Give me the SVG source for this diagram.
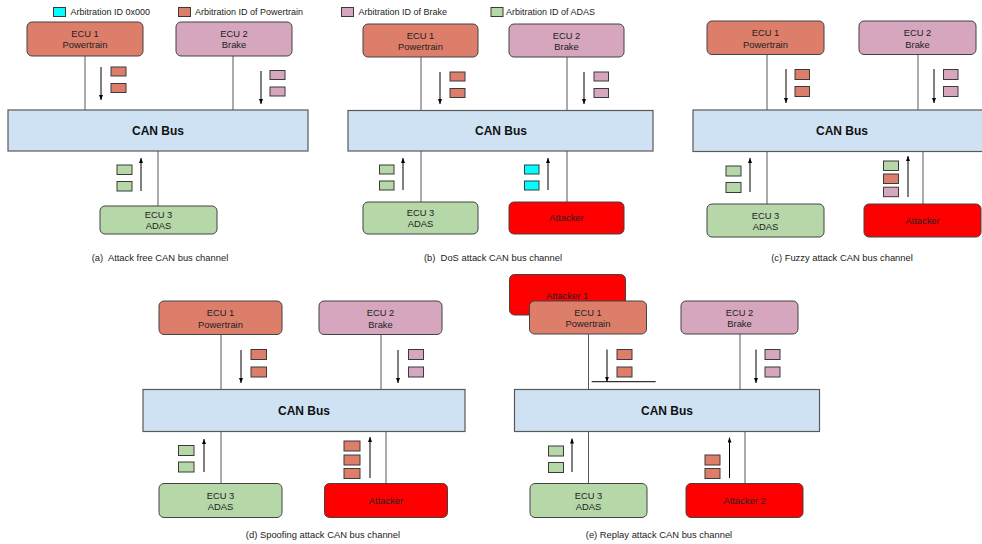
<svg xmlns="http://www.w3.org/2000/svg" width="982" height="544" viewBox="0 0 982 544">
<defs>
<marker id="ah" markerUnits="userSpaceOnUse" markerWidth="5" markerHeight="5" refX="5" refY="2" orient="auto">
<path d="M0,0 L5,2 L0,4 z" fill="#000"/>
</marker>
<style>
.n{stroke:#434343;stroke-width:1}
.pw{fill:#dd7e6b}.br{fill:#d5a6bd}.ad{fill:#b6d7a8}.bus{fill:#cfe2f3;stroke:#595959;stroke-width:1.2}.att{fill:#ff0000}.cy{fill:#00ffff}
.pk{stroke:#3a3a3a;stroke-width:1}
.t{font-family:"Liberation Sans",Arial,sans-serif;font-size:9.4px;fill:#222;text-anchor:middle}
.lg{font-family:"Liberation Sans",Arial,sans-serif;font-size:9px;fill:#222}
.bt{font-family:"Liberation Sans",Arial,sans-serif;font-size:12px;font-weight:bold;fill:#111;text-anchor:middle}
.w{stroke:#595959;stroke-width:1;fill:none}
.ar{stroke:#000;stroke-width:1;fill:none;marker-end:url(#ah)}
</style>
</defs>
<rect width="982" height="544" fill="#fff"/>

<g id="legend">
<rect class="pk cy" x="53.5" y="7.5" width="12" height="9"/>
<text class="lg" x="70.5" y="15.2">Arbitration ID 0x000</text>
<rect class="pk pw" x="178.5" y="7.5" width="12" height="9"/>
<text class="lg" x="195" y="15.2">Arbitration ID of Powertrain</text>
<rect class="pk br" x="341.5" y="7.5" width="12" height="9"/>
<text class="lg" x="358.5" y="15.2">Arbitration ID of Brake</text>
<rect class="pk ad" x="491" y="7.5" width="12" height="9"/>
<text class="lg" x="506" y="15.2">Arbitration ID of ADAS</text>
</g>

<g id="connectors">
<!-- a -->
<line class="w" x1="85" y1="56" x2="85" y2="110"/>
<line class="w" x1="233" y1="56" x2="233" y2="110"/>
<line class="w" x1="158" y1="151" x2="158" y2="206"/>
<line class="ar" x1="101" y1="67" x2="101" y2="100"/>
<line class="ar" x1="261" y1="71" x2="261" y2="104"/>
<line class="ar" x1="141" y1="191" x2="141" y2="158"/>
<!-- b -->
<line class="w" x1="421" y1="57" x2="421" y2="110.5"/>
<line class="w" x1="567" y1="57" x2="567" y2="110.5"/>
<line class="w" x1="421" y1="151" x2="421" y2="202"/>
<line class="w" x1="567" y1="151" x2="567" y2="202"/>
<line class="ar" x1="440" y1="72" x2="440" y2="104"/>
<line class="ar" x1="584" y1="72" x2="584" y2="104"/>
<line class="ar" x1="403" y1="190" x2="403" y2="158"/>
<line class="ar" x1="548" y1="190" x2="548" y2="158"/>
<!-- c -->
<line class="w" x1="767" y1="54.5" x2="767" y2="110"/>
<line class="w" x1="918" y1="54.5" x2="918" y2="110"/>
<line class="w" x1="767" y1="151.5" x2="767" y2="204"/>
<line class="w" x1="923" y1="151.5" x2="923" y2="204"/>
<line class="ar" x1="786" y1="69" x2="786" y2="103"/>
<line class="ar" x1="934" y1="69" x2="934" y2="103"/>
<line class="ar" x1="750" y1="192" x2="750" y2="158"/>
<line class="ar" x1="908" y1="197" x2="908" y2="156"/>
<!-- d -->
<line class="w" x1="221" y1="334.5" x2="221" y2="389.5"/>
<line class="w" x1="381" y1="334.5" x2="381" y2="389.5"/>
<line class="w" x1="221" y1="431.5" x2="221" y2="483.5"/>
<line class="w" x1="386" y1="431.5" x2="386" y2="483.5"/>
<line class="ar" x1="241" y1="350" x2="241" y2="383"/>
<line class="ar" x1="398" y1="350" x2="398" y2="383"/>
<line class="ar" x1="204" y1="472" x2="204" y2="439"/>
<line class="ar" x1="370" y1="478" x2="370" y2="437"/>
<!-- e -->
<line class="w" x1="588.5" y1="334" x2="588.5" y2="389.5"/>
<line class="w" x1="740" y1="334" x2="740" y2="389.5"/>
<line class="w" x1="588.5" y1="431.5" x2="588.5" y2="483.5"/>
<line class="w" x1="745" y1="431.5" x2="745" y2="483.5"/>
<line stroke="#000" stroke-width="1" x1="591.7" y1="381.7" x2="655.7" y2="381.7"/>
<line class="ar" x1="607" y1="349.5" x2="607" y2="381.7"/>
<line class="ar" x1="756" y1="349.5" x2="756" y2="383"/>
<line class="ar" x1="572" y1="472" x2="572" y2="438.5"/>
<line class="ar" x1="729.5" y1="478" x2="729.5" y2="437.5"/>
</g>

<g id="packets">
<!-- a -->
<rect class="pk pw" x="111" y="67" width="15" height="9"/>
<rect class="pk pw" x="111" y="83.5" width="15" height="9"/>
<rect class="pk br" x="270" y="70.5" width="15" height="9"/>
<rect class="pk br" x="270" y="87" width="15" height="9"/>
<rect class="pk ad" x="117" y="165" width="15" height="9.5"/>
<rect class="pk ad" x="117" y="181.5" width="15" height="9.5"/>
<!-- b -->
<rect class="pk pw" x="450" y="72" width="15" height="9"/>
<rect class="pk pw" x="450" y="88.5" width="15" height="9"/>
<rect class="pk br" x="594" y="72" width="14.5" height="9"/>
<rect class="pk br" x="594" y="88.5" width="14.5" height="9"/>
<rect class="pk ad" x="379.5" y="165" width="14.5" height="9"/>
<rect class="pk ad" x="379.5" y="181" width="14.5" height="9"/>
<rect class="pk cy" x="524.5" y="165" width="14.5" height="9"/>
<rect class="pk cy" x="524.5" y="181" width="14.5" height="9"/>
<!-- c -->
<rect class="pk pw" x="795" y="69.5" width="14.5" height="10"/>
<rect class="pk pw" x="795" y="86.5" width="14.5" height="10"/>
<rect class="pk br" x="943.5" y="69.5" width="14.5" height="10"/>
<rect class="pk br" x="943.5" y="86.5" width="14.5" height="10"/>
<rect class="pk ad" x="726" y="166" width="15" height="10"/>
<rect class="pk ad" x="726" y="182.5" width="15" height="10"/>
<rect class="pk ad" x="883.5" y="161" width="15" height="9.5"/>
<rect class="pk pw" x="883.5" y="174" width="15" height="9.5"/>
<rect class="pk br" x="883.5" y="187.2" width="15" height="9.5"/>
<!-- d -->
<rect class="pk pw" x="251" y="349.5" width="15.5" height="10"/>
<rect class="pk pw" x="251" y="367" width="15.5" height="10"/>
<rect class="pk br" x="408.5" y="349.5" width="15" height="10"/>
<rect class="pk br" x="408.5" y="367" width="15" height="10"/>
<rect class="pk ad" x="178.5" y="445.5" width="15.5" height="10"/>
<rect class="pk ad" x="178.5" y="462" width="15.5" height="10"/>
<rect class="pk pw" x="344" y="441" width="16" height="10"/>
<rect class="pk pw" x="344" y="455" width="16" height="10"/>
<rect class="pk pw" x="344" y="468.5" width="16" height="10"/>
<!-- e -->
<rect class="pk pw" x="617" y="349.5" width="15" height="10"/>
<rect class="pk pw" x="617" y="367" width="15" height="10"/>
<rect class="pk br" x="765" y="349.5" width="15" height="10"/>
<rect class="pk br" x="765" y="367" width="15" height="10"/>
<rect class="pk ad" x="548.5" y="446" width="15" height="10"/>
<rect class="pk ad" x="548.5" y="462.5" width="15" height="10"/>
<rect class="pk pw" x="705" y="455" width="15" height="10"/>
<rect class="pk pw" x="705" y="468.5" width="15" height="10"/>
</g>

<!-- Panel a -->
<g id="a-ecu1"><rect class="n pw" x="27" y="22" width="116" height="34" rx="5"/><text class="t" x="85" y="37.4">ECU 1</text><text class="t" x="85" y="48.4">Powertrain</text></g>
<g id="a-ecu2"><rect class="n br" x="176" y="22" width="116" height="34" rx="5"/><text class="t" x="234" y="37.4">ECU 2</text><text class="t" x="234" y="48.4">Brake</text></g>
<g id="a-bus"><rect class="bus" x="8" y="110" width="300" height="41"/><text class="bt" x="158" y="134.8">CAN Bus</text></g>
<g id="a-ecu3"><rect class="n ad" x="100" y="206" width="117" height="28" rx="5"/><text class="t" x="158.5" y="218">ECU 3</text><text class="t" x="158.5" y="229">ADAS</text></g>
<text id="a-cap" class="t" x="160" y="261" xml:space="preserve">(a)  Attack free CAN bus channel</text>

<!-- Panel b -->
<g id="b-ecu1"><rect class="n pw" x="363" y="24" width="115" height="33" rx="5"/><text class="t" x="420.5" y="38.8">ECU 1</text><text class="t" x="420.5" y="50">Powertrain</text></g>
<g id="b-ecu2"><rect class="n br" x="509" y="24" width="115" height="33" rx="5"/><text class="t" x="566.5" y="38.8">ECU 2</text><text class="t" x="566.5" y="50">Brake</text></g>
<g id="b-bus"><rect class="bus" x="348" y="110.5" width="305" height="40.5"/><text class="bt" x="501" y="135">CAN Bus</text></g>
<g id="b-ecu3"><rect class="n ad" x="363" y="202" width="115" height="32" rx="5"/><text class="t" x="420.5" y="216">ECU 3</text><text class="t" x="420.5" y="227">ADAS</text></g>
<g id="b-att"><rect class="n att" x="509" y="202" width="115" height="32" rx="5"/><text class="t" x="566.5" y="221.4">Attacker</text></g>
<text id="b-cap" class="t" x="493" y="261" xml:space="preserve">(b)  DoS attack CAN bus channel</text>

<!-- Panel c -->
<g id="c-ecu1"><rect class="n pw" x="707" y="21" width="117" height="33.5" rx="5"/><text class="t" x="765.5" y="36.3">ECU 1</text><text class="t" x="765.5" y="47.5">Powertrain</text></g>
<g id="c-ecu2"><rect class="n br" x="859" y="21" width="117" height="33.5" rx="5"/><text class="t" x="917.5" y="36.3">ECU 2</text><text class="t" x="917.5" y="47.5">Brake</text></g>
<g id="c-bus"><rect class="bus" x="693" y="110" width="296" height="41.5"/><text class="bt" x="842" y="134.8">CAN Bus</text></g>
<g id="c-ecu3"><rect class="n ad" x="707" y="204" width="117" height="33" rx="5"/><text class="t" x="765.5" y="219">ECU 3</text><text class="t" x="765.5" y="230">ADAS</text></g>
<g id="c-att"><rect class="n att" x="864" y="204" width="117" height="33" rx="5"/><text class="t" x="922.5" y="223.9">Attacker</text></g>
<text id="c-cap" class="t" x="842" y="261">(c) Fuzzy attack CAN bus channel</text>

<!-- Panel d -->
<g id="d-ecu1"><rect class="n pw" x="159" y="301" width="123" height="33.5" rx="5"/><text class="t" x="220.5" y="316.3">ECU 1</text><text class="t" x="220.5" y="327.5">Powertrain</text></g>
<g id="d-ecu2"><rect class="n br" x="319" y="301" width="123" height="33.5" rx="5"/><text class="t" x="380.5" y="316.3">ECU 2</text><text class="t" x="380.5" y="327.5">Brake</text></g>
<g id="d-bus"><rect class="bus" x="143" y="389.5" width="322" height="42"/><text class="bt" x="304" y="414.8">CAN Bus</text></g>
<g id="d-ecu3"><rect class="n ad" x="159" y="483.5" width="123" height="34" rx="5"/><text class="t" x="220.5" y="499">ECU 3</text><text class="t" x="220.5" y="510.2">ADAS</text></g>
<g id="d-att"><rect class="n att" x="324.5" y="483.5" width="123" height="34" rx="5"/><text class="t" x="386" y="503.8">Attacker</text></g>
<text id="d-cap" class="t" x="323" y="537.6">(d) Spoofing attack CAN bus channel</text>

<!-- Panel e -->
<g id="e-att1"><rect class="n att" x="509.5" y="274.5" width="116" height="40.5" rx="5"/><text class="t" x="567" y="299">Attacker 1</text></g>
<g id="e-ecu1"><rect class="n pw" x="529.5" y="301" width="117" height="33" rx="5"/><text class="t" x="588" y="316">ECU 1</text><text class="t" x="588" y="327.2">Powertrain</text></g>
<g id="e-ecu2"><rect class="n br" x="681" y="301" width="117" height="33" rx="5"/><text class="t" x="739.5" y="316">ECU 2</text><text class="t" x="739.5" y="327.2">Brake</text></g>
<g id="e-bus"><rect class="bus" x="514.5" y="389.5" width="305" height="42"/><text class="bt" x="667" y="414.8">CAN Bus</text></g>
<g id="e-ecu3"><rect class="n ad" x="530" y="483.5" width="117" height="34" rx="5"/><text class="t" x="588.5" y="499">ECU 3</text><text class="t" x="588.5" y="510.2">ADAS</text></g>
<g id="e-att2"><rect class="n att" x="686" y="483.5" width="117" height="34" rx="5"/><text class="t" x="744.5" y="503.8">Attacker 2</text></g>
<text id="e-cap" class="t" x="659" y="537.6">(e) Replay attack CAN bus channel</text>
</svg>
